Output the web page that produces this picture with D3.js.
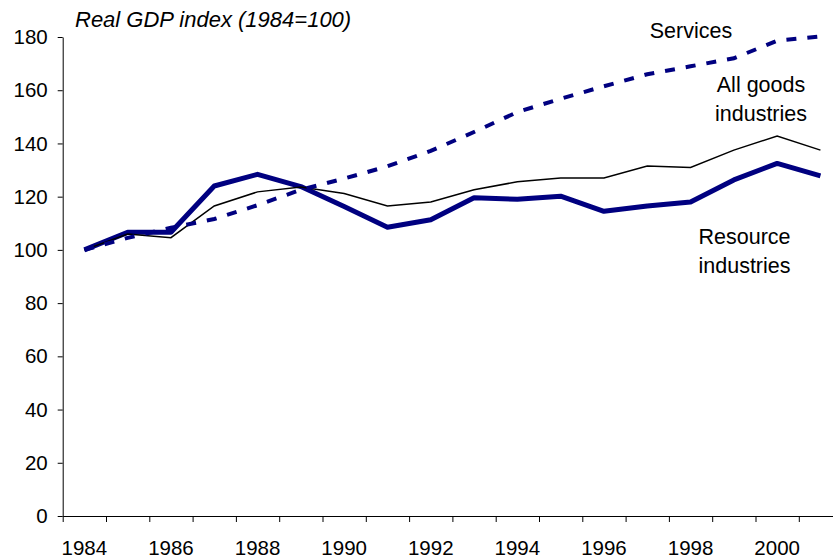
<!DOCTYPE html>
<html>
<head>
<meta charset="utf-8">
<script src="https://cdn.jsdelivr.net/npm/d3@7"></script>
<style>
	body { margin: 0; background: #fff; }
	svg { display: block; font-family: "Liberation Sans", Arial, sans-serif; }
</style>
</head>
<body>
<div id="chart"></div>
<script>
// chart values
var years = [1984, 1985, 1986, 1987, 1988, 1989, 1990, 1991, 1992, 1993, 1994, 1995, 1996, 1997, 1998, 1999, 2000, 2001];
var resource = [100, 106.6, 106.6, 124, 128.4, 123.8, 116.3, 108.5, 111.3, 119.6, 119, 120.2, 114.5, 116.5, 118, 126.3, 132.5, 127.8];
var allGoods = [100, 106, 104.6, 116.5, 121.8, 123.6, 121.2, 116.5, 118, 122.6, 125.6, 127, 127, 131.5, 131, 137.5, 142.8, 137.5];
var services = [100, 104.5, 108.3, 111.6, 116.8, 122.6, 126.8, 131.4, 137.2, 144.3, 151.8, 156.8, 161.5, 166, 169, 172, 178.6, 180.2];
var yTicks = [0, 20, 40, 60, 80, 100, 120, 140, 160, 180];
var yearLabels = [1984, 1986, 1988, 1990, 1992, 1994, 1996, 1998, 2000];

var width = 833, height = 558;
var plotLeft = 62.7, step = 43.3, plotTop = 37, plotBottom = 516;

var svg = d3.select("#chart").append("svg")
	.attr("width", width)
	.attr("height", height);

// scales
var x = d3.scaleBand()
	.domain(years)
	.range([plotLeft, plotLeft + step * years.length])
	.padding(0);
var xEdge = d3.scaleLinear()
	.domain([years[0], years[years.length - 1] + 1])
	.range([plotLeft, plotLeft + step * years.length]);
var y = d3.scaleLinear()
	.domain([0, 180])
	.range([plotBottom, plotTop]);

// y axis
var yg = svg.append("g")
	.attr("transform", "translate(" + plotLeft + ",0)")
	.call(d3.axisLeft(y).tickValues(yTicks).tickSize(5).tickPadding(10).tickSizeOuter(0));
yg.selectAll("text").style("font-size", "20.5px").attr("fill", "#000");

// x axis: ticks on the category edges, labels in the middle of every other year
var xg = svg.append("g")
	.attr("transform", "translate(0," + plotBottom + ")")
	.call(d3.axisBottom(xEdge).tickValues(d3.range(years[0], years[years.length - 1] + 2)).tickFormat("").tickSize(6).tickSizeOuter(0));
var xl = svg.append("g")
	.attr("transform", "translate(0," + plotBottom + ")")
	.call(d3.axisBottom(x).tickValues(yearLabels).tickSize(0).tickPadding(24));
xl.select(".domain").remove();
xl.selectAll("text").style("font-size", "20.5px").attr("fill", "#000");

svg.selectAll(".domain, .tick line").attr("stroke", "#000").attr("stroke-width", 1);

// lines
var line = function(vals) {
	return d3.line()
		.x(function(d, i) { return x(years[i]) + x.bandwidth() / 2; })
		.y(function(d) { return y(d); })(vals);
};

svg.append("path")
	.attr("d", line(resource))
	.attr("fill", "none")
	.attr("stroke", "#000080")
	.attr("stroke-width", 5)
	.attr("stroke-linejoin", "round");

svg.append("path")
	.attr("d", line(allGoods))
	.attr("fill", "none")
	.attr("stroke", "#000")
	.attr("stroke-width", 1.5);

svg.append("path")
	.attr("d", line(services))
	.attr("fill", "none")
	.attr("stroke", "#000080")
	.attr("stroke-width", 4)
	.attr("stroke-dasharray", "10,11");

// labels
svg.append("text")
	.attr("x", 75)
	.attr("y", 27)
	.style("font-size", "22px")
	.style("font-style", "italic")
	.text("Real GDP index (1984=100)");

var notes = [
	{ lines: ["Services"], x: 691, y: 38 },
	{ lines: ["All goods", "industries"], x: 761, y: 92 },
	{ lines: ["Resource", "industries"], x: 744.5, y: 244 }
];
notes.forEach(function(n) {
	var t = svg.append("text")
		.attr("text-anchor", "middle")
		.style("font-size", "21.5px");
	n.lines.forEach(function(s, i) {
		t.append("tspan")
			.attr("x", n.x)
			.attr("y", n.y + i * 29)
			.text(s);
	});
});
</script>
</body>
</html>
